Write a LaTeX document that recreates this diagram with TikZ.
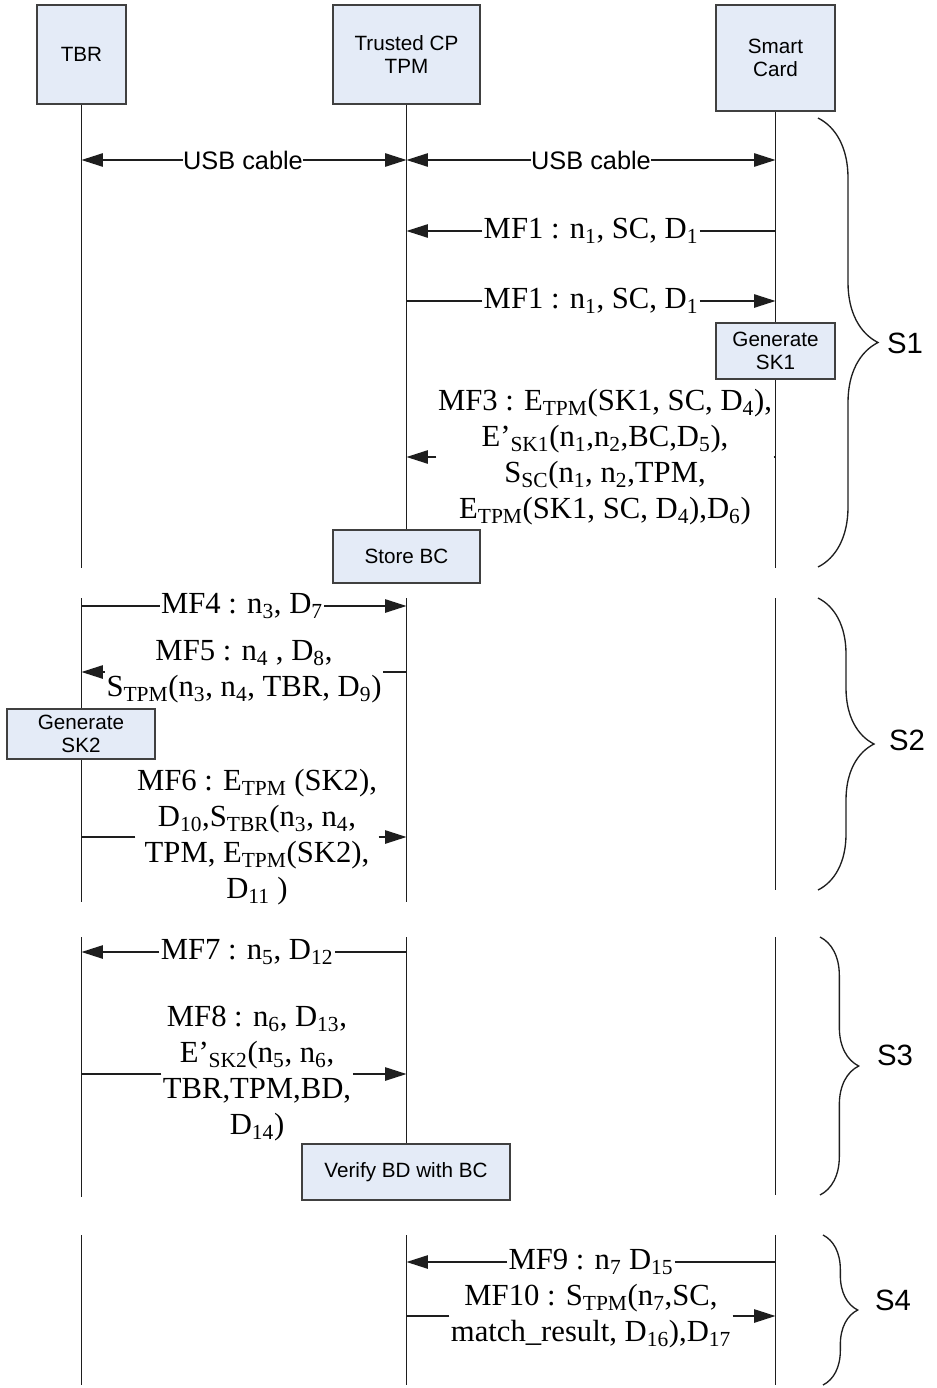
\documentclass[tikz,border=0pt]{standalone}
\usepackage{fontspec}
\setmainfont{Liberation Serif}
\newfontfamily\sansf{Liberation Sans}
\usetikzlibrary{arrows.meta,decorations.pathreplacing}
\definecolor{boxfill}{RGB}{228,235,247}
\definecolor{boxline}{RGB}{64,64,64}
\definecolor{ink}{RGB}{30,30,30}
\newcommand{\sbs}[1]{\textsubscript{#1}}
\begin{document}
\begin{tikzpicture}[x=0.75pt,y=-0.75pt,
  actor/.style={draw=boxline,line width=1.3pt,fill=boxfill,font=\sansf\fontsize{15.5}{17}\selectfont,align=center,inner sep=0pt},
  life/.style={draw=ink,line width=1.1pt},
  msg/.style={draw=ink,line width=1pt},
  msgarr/.style={msg,-{Triangle[length=16pt,width=10pt]}},
  lbl/.style={font=\fontsize{23}{27}\selectfont,align=center,inner xsep=1pt,inner ysep=2pt},
  usbl/.style={font=\sansf\fontsize{19}{21}\selectfont,inner xsep=0pt},
  brc/.style={draw=ink,line width=1pt,decorate},
  slbl/.style={font=\sansf\fontsize{22}{24}\selectfont}
]
\useasboundingbox (0,0) rectangle (936,1388);
% lifelines
\foreach \a/\b in {104/568,598/902,937/1197,1235/1385} \draw[life] (81.5,\a) -- (81.5,\b);
\foreach \a/\b in {104/530,598/902,937/1144,1235/1385} \draw[life] (406.5,\a) -- (406.5,\b);
\foreach \a/\b in {111/568,598/890,937/1195,1235/1385} \draw[life] (775.5,\a) -- (775.5,\b);
% actors
\node[actor,minimum width=66.75pt,minimum height=74.25pt] (tbr) at (81.5,54.5) {TBR};
\node[actor,minimum width=110.25pt,minimum height=74.25pt] (tpm) at (406.5,54.5) {Trusted CP\\TPM};
\node[actor,minimum width=89.25pt,minimum height=79.5pt] (sc) at (775.5,58) {Smart\\Card};
% activity boxes
\node[actor,minimum width=89.25pt,minimum height=42pt] (gsk1) at (775.5,351) {Generate\\SK1};
\node[actor,minimum width=110.25pt,minimum height=39.75pt] (sbc) at (406.5,556.5) {Store BC};
\node[actor,minimum width=111pt,minimum height=37.5pt] (gsk2) at (81,734) {Generate\\SK2};
\node[actor,minimum width=156pt,minimum height=42pt] (vbd) at (406,1172) {Verify BD with BC};
% USB cables
\node[usbl] (u1) at (243,160) {USB cable};
\draw[msgarr] (u1.west) -- (u1 -| tbr);
\draw[msgarr] (u1.east) -- (u1 -| tpm);
\node[usbl] (u2) at (591,160) {USB cable};
\draw[msgarr] (u2.west) -- (u2 -| tpm);
\draw[msgarr] (u2.east) -- (u2 -| sc);
% MF1
\node[lbl] (m1) at (591,231) {MF1 : n\sbs{1}, SC, D\sbs{1}};
\draw[msg] (m1.east) -- (m1 -| sc);
\draw[msgarr] (m1.west) -- (m1 -| tpm);
\node[lbl] (m2) at (591,301) {MF1 : n\sbs{1}, SC, D\sbs{1}};
\draw[msg] (m2.west) -- (m2 -| tpm);
\draw[msgarr] (m2.east) -- (m2 -| sc);
% MF3
\node[lbl] (m3) at (605,457) {MF3 : E\sbs{TPM}(SK1, SC, D\sbs{4}),\\E’\sbs{SK1}(n\sbs{1},n\sbs{2},BC,D\sbs{5}),\\S\sbs{SC}(n\sbs{1}, n\sbs{2},TPM,\\E\sbs{TPM}(SK1, SC, D\sbs{4}),D\sbs{6})};
\draw[msg] (m3.east) -- (m3 -| sc);
\draw[msgarr] (m3.west) -- (m3 -| tpm);
% MF4
\node[lbl] (m4) at (242,606) {MF4 : n\sbs{3}, D\sbs{7}};
\draw[msg] (m4.west) -- (m4 -| tbr);
\draw[msgarr] (m4.east) -- (m4 -| tpm);
% MF5
\node[lbl] (m5) at (244,672) {MF5 : n\sbs{4} , D\sbs{8},\\S\sbs{TPM}(n\sbs{3}, n\sbs{4}, TBR, D\sbs{9})};
\draw[msg] (m5.east) -- (m5 -| tpm);
\draw[msgarr] (m5.west) -- (m5 -| tbr);
% MF6
\node[lbl] (m6) at (257,837) {MF6 : E\sbs{TPM} (SK2),\\D\sbs{10},S\sbs{TBR}(n\sbs{3}, n\sbs{4},\\TPM, E\sbs{TPM}(SK2),\\D\sbs{11} )};
\draw[msg] (m6.west) -- (m6 -| tbr);
\draw[msgarr] (m6.east) -- (m6 -| tpm);
% MF7
\node[lbl] (m7) at (247,952) {MF7 : n\sbs{5}, D\sbs{12}};
\draw[msg] (m7.east) -- (m7 -| tpm);
\draw[msgarr] (m7.west) -- (m7 -| tbr);
% MF8
\node[lbl] (m8) at (257,1074) {MF8 : n\sbs{6}, D\sbs{13},\\E’\sbs{SK2}(n\sbs{5}, n\sbs{6},\\TBR,TPM,BD,\\D\sbs{14})};
\draw[msg] (m8.west) -- (m8 -| tbr);
\draw[msgarr] (m8.east) -- (m8 -| tpm);
% MF9
\node[lbl] (m9) at (591,1262) {MF9 : n\sbs{7} D\sbs{15}};
\draw[msg] (m9.east) -- (m9 -| sc);
\draw[msgarr] (m9.west) -- (m9 -| tpm);
% MF10
\node[lbl] (m10) at (591,1316) {MF10 : S\sbs{TPM}(n\sbs{7},SC,\\match\_result, D\sbs{16}),D\sbs{17}};
\draw[msg] (m10.west) -- (m10 -| tpm);
\draw[msgarr] (m10.east) -- (m10 -| sc);
% braces
\draw[brc,decoration={brace,amplitude=45pt}] (818,118) -- (818,567);
\node[slbl] (s1) at (905,343) {S1};
\draw[brc,decoration={brace,amplitude=42pt}] (818,598) -- (818,890);
\node[slbl] (s2) at (907,740) {S2};
\draw[brc,decoration={brace,amplitude=29pt}] (820,937) -- (820,1195);
\node[slbl] (s3) at (895,1055) {S3};
\draw[brc,decoration={brace,amplitude=26pt}] (823,1235) -- (823,1385);
\node[slbl] (s4) at (893,1300) {S4};
\end{tikzpicture}
\end{document}
